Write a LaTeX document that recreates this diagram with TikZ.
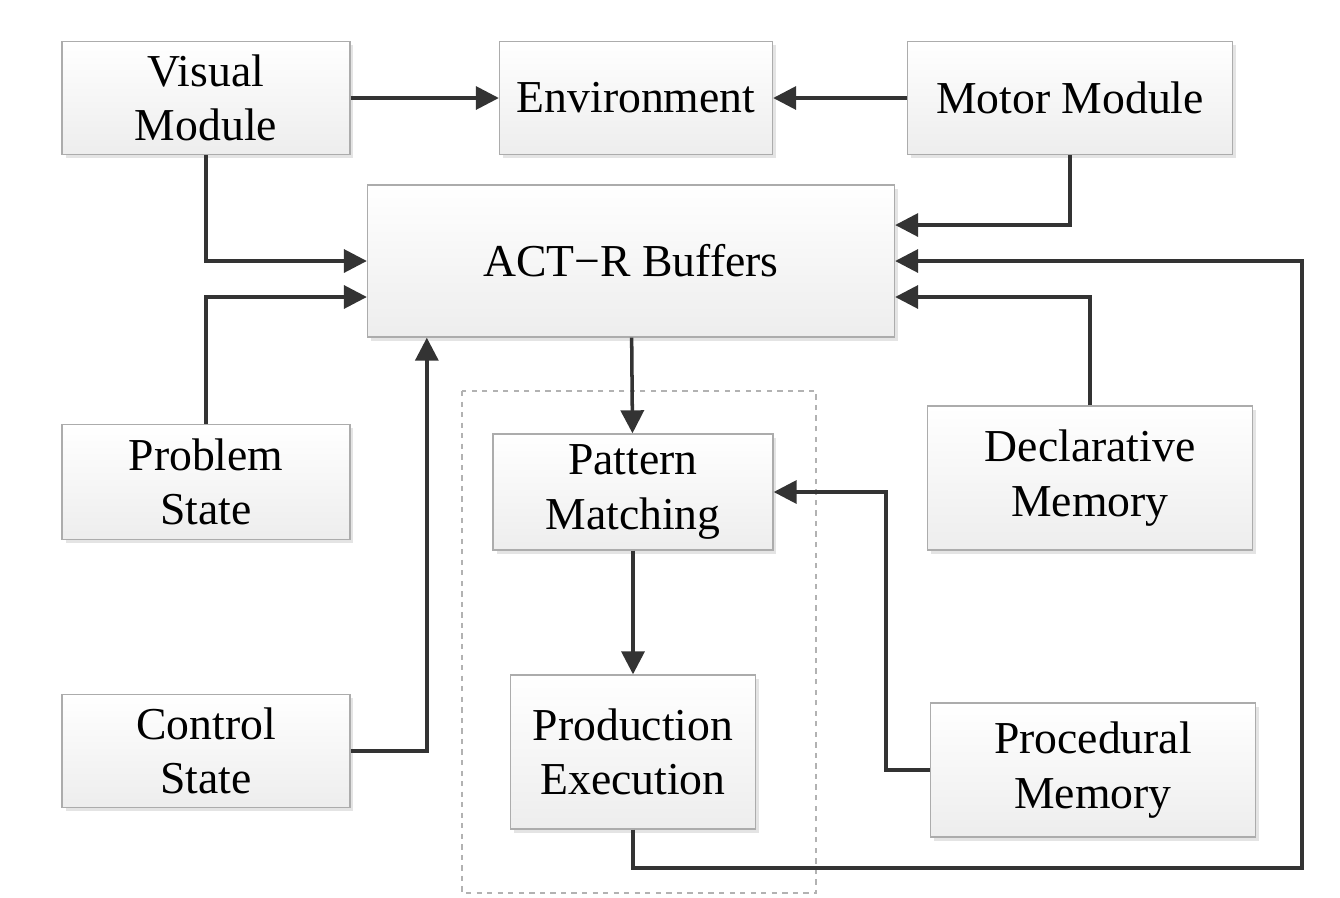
\documentclass[tikz,border=0pt]{standalone}
\usepackage{fontspec}
\setmainfont{Liberation Serif}
\usepackage{tikz}
\usetikzlibrary{positioning, arrows.meta, shadows}

\begin{document}
\begin{tikzpicture}[
  x=0.02cm, y=-0.02cm,
  every node/.style={font=\fontsize{26}{31}\selectfont, align=center},
  module/.style={draw=gray!65, line width=0.8pt, top color=white, bottom color=gray!14,
                 minimum height=2.26cm, inner sep=2pt,
                 drop shadow={shadow xshift=2pt, shadow yshift=-2pt, fill=gray!35, opacity=0.6}},
  arrow/.style={-{Triangle[length=0.46cm, width=0.46cm]}, line width=2pt, draw=black!80}
]
  \useasboundingbox (0,0) rectangle (1340,897);

  \node[module, minimum width=5.76cm] (visual) at (206,98) {Visual\\Module};
  \node[module, minimum width=5.46cm] (env) at (636,98) {Environment};
  \node[module, minimum width=6.5cm] (motor) at (1070,98) {Motor Module};
  \node[module, minimum width=10.54cm, minimum height=3.04cm] (buffers) at (631,261) {ACT\char"2212 R Buffers};
  \node[module, minimum width=5.76cm, minimum height=2.3cm] (problem) at (206,482) {Problem\\State};
  \node[module, minimum width=5.76cm] (control) at (206,751) {Control\\State};
  \node[module, minimum width=5.6cm, minimum height=2.32cm] (pattern) at (633,492) {Pattern\\Matching};
  \node[module, minimum width=4.9cm, minimum height=3.08cm] (production) at (633,752) {Production\\Execution};
  \node[module, minimum width=6.5cm, minimum height=2.88cm] (declarative) at (1090,478) {Declarative\\Memory};
  \node[module, minimum width=6.5cm, minimum height=2.68cm] (procedural) at (1093,770) {Procedural\\Memory};

  % production system
  \draw[dashed, draw=gray!60, line width=0.6pt] (462,391) rectangle (816,893);

  \coordinate (loop) at (1302,868);
  \coordinate (proceduralturn) at (886,492);

  \draw[arrow] (visual) -- (env);
  \draw[arrow] (motor) -- (env);
  \draw[arrow] (visual) |- (buffers);
  \draw[arrow] (problem) |- ([yshift=-0.72cm]buffers.west);
  \draw[arrow] (control) -| ([xshift=1.2cm]buffers.south west);
  \draw[arrow] (motor) |- ([yshift=0.72cm]buffers.east);
  \draw[arrow] (declarative) |- ([yshift=-0.72cm]buffers.east);
  \draw[arrow] (production) |- (loop) |- (buffers.east);
  \draw[arrow] (buffers) -- (pattern);
  \draw[arrow] (pattern) -- (production);
  \draw[arrow] (procedural) -| (proceduralturn) -- (pattern);
\end{tikzpicture}
\end{document}
